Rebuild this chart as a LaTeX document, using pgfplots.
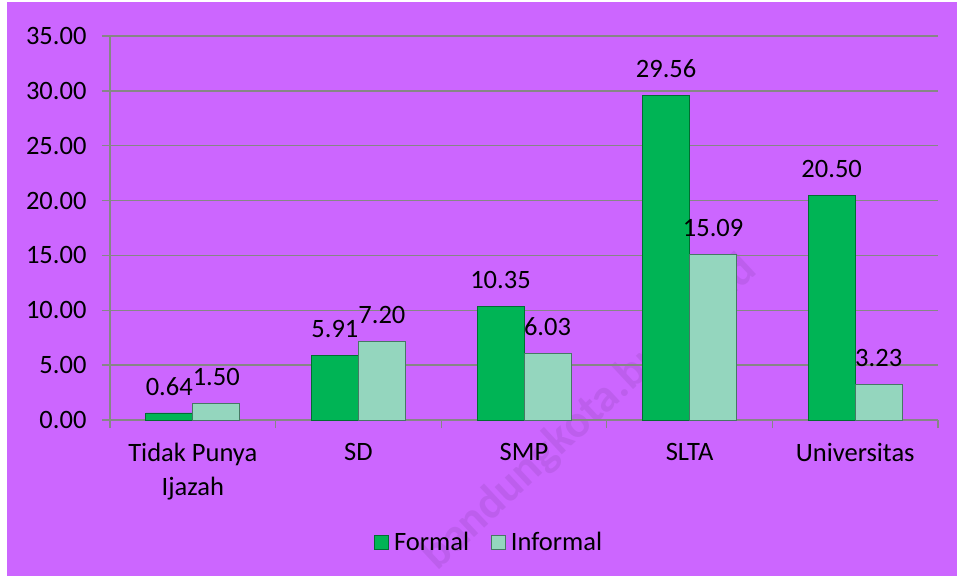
\documentclass[border=0pt]{standalone}
\usepackage{pgfplots}
\pgfplotsset{compat=1.18}
\usepackage{fontspec}
\setmainfont{Carlito}
\definecolor{bgpurple}{RGB}{204,102,255}
\definecolor{formalgreen}{RGB}{0,180,85}
\definecolor{formaledge}{RGB}{0,110,50}
\definecolor{informalmint}{RGB}{148,214,190}
\definecolor{informaledge}{RGB}{70,120,100}
\definecolor{gridgray}{RGB}{134,134,134}
\begin{document}
\begin{tikzpicture}[x=1pt,y=1pt]
\path[fill=white] (0,0) rectangle (959,578);
\path[fill=bgpurple] (7,2) rectangle (957,576);
\node[rotate=43, text=black!50!bgpurple, opacity=0.14, font=\fontsize{46}{50}\selectfont\bfseries] at (590,165) {bandungkota.bps.go.id};
\begin{axis}[
  at={(110pt,158pt)}, anchor=south west,
  scale only axis, width=828pt, height=384pt,
  ybar=0pt, bar width=47pt,
  xmin=-0.5, xmax=4.5, ymin=0, ymax=35,
  ytick distance=5,
  xtick={0,1,2,3,4},
  xticklabels={{Tidak Punya\\Ijazah},SD,SMP,SLTA,Universitas},
  minor xtick={-0.5,0.5,1.5,2.5,3.5,4.5},
  major x tick style={draw=none},
  minor x tick style={draw=gridgray, line width=1.3pt},
  minor tick length=8pt,
  major tick length=8pt,
  tick align=outside,
  ytick style={draw=gridgray, line width=1.3pt},
  axis x line*=bottom, axis y line*=left,
  axis line style={draw=gridgray, line width=1.3pt, -},
  ymajorgrids, grid style={draw=gridgray, line width=1.3pt},
  /pgf/number format/assume math mode=true,
  yticklabel={\pgfmathprintnumber[fixed,fixed zerofill,precision=2]{\tick}},
  tick label style={font=\fontsize{26.5}{34}\selectfont, text=black},
  xticklabel style={align=center, yshift=-12pt},
  yticklabel style={xshift=-12pt},
  nodes near coords={\pgfmathprintnumber[fixed,fixed zerofill,precision=2,assume math mode=true]{\pgfplotspointmeta}},
  every node near coord/.append style={font=\fontsize{26.5}{30}\selectfont, text=black, yshift=14pt},
  legend columns=2,
  legend style={draw=none, fill=none, at={(0.458,-0.318)}, anchor=center,
    font=\fontsize{26.5}{30}\selectfont,
    /tikz/every even column/.append style={column sep=20pt},
    /tikz/every odd column/.append style={column sep=3pt}},
  legend image code/.code={\draw[#1] (0pt,-7pt) rectangle (14pt,7pt);},
  clip=false,
]
\addplot[fill=formalgreen, draw=formaledge, line width=0.8pt] coordinates {(0,0.64) (1,5.91) (2,10.35) (3,29.56) (4,20.50)};
\addplot[fill=informalmint, draw=informaledge, line width=0.8pt] coordinates {(0,1.50) (1,7.20) (2,6.03) (3,15.09) (4,3.23)};
\legend{Formal,Informal}
\end{axis}
\end{tikzpicture}
\end{document}
